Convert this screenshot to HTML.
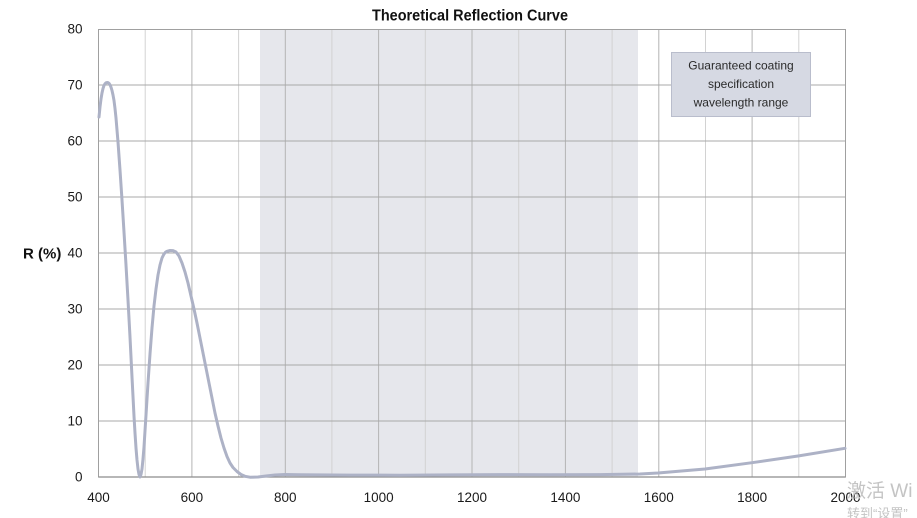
<!DOCTYPE html>
<html><head><meta charset="utf-8"><style>
html,body{margin:0;padding:0;background:#fff;}
svg{display:block;}
</style></head><body>
<svg width="917" height="518" viewBox="0 0 917 518" xmlns="http://www.w3.org/2000/svg">
<rect width="917" height="518" fill="#fff"/>
<text x="470" y="20.5" text-anchor="middle" font-family="Liberation Sans, sans-serif" font-weight="bold" font-size="16" fill="#111" textLength="196" lengthAdjust="spacingAndGlyphs">Theoretical Reflection Curve</text>
<!-- band -->
<rect x="260" y="29" width="378" height="448" fill="#e6e7ec"/>
<!-- minor vertical grid -->
<g stroke="#d2d2d2" stroke-width="1">
<line x1="145.2" y1="29" x2="145.2" y2="477"/>
<line x1="238.6" y1="29" x2="238.6" y2="477"/>
<line x1="331.9" y1="29" x2="331.9" y2="477"/>
<line x1="425.3" y1="29" x2="425.3" y2="477"/>
<line x1="518.7" y1="29" x2="518.7" y2="477"/>
<line x1="612.1" y1="29" x2="612.1" y2="477"/>
<line x1="705.5" y1="29" x2="705.5" y2="477"/>
<line x1="798.8" y1="29" x2="798.8" y2="477"/>
</g>
<g stroke="#b4b4b4" stroke-width="1">
<line x1="191.9" y1="29" x2="191.9" y2="477"/>
<line x1="285.3" y1="29" x2="285.3" y2="477"/>
<line x1="378.6" y1="29" x2="378.6" y2="477"/>
<line x1="472" y1="29" x2="472" y2="477"/>
<line x1="565.4" y1="29" x2="565.4" y2="477"/>
<line x1="658.8" y1="29" x2="658.8" y2="477"/>
<line x1="752.1" y1="29" x2="752.1" y2="477"/>
</g>
<g stroke="#a8a8a8" stroke-width="1">
<line x1="98.5" y1="85" x2="845.5" y2="85"/>
<line x1="98.5" y1="141" x2="845.5" y2="141"/>
<line x1="98.5" y1="197" x2="845.5" y2="197"/>
<line x1="98.5" y1="253" x2="845.5" y2="253"/>
<line x1="98.5" y1="309" x2="845.5" y2="309"/>
<line x1="98.5" y1="365" x2="845.5" y2="365"/>
<line x1="98.5" y1="421" x2="845.5" y2="421"/>
</g>
<!-- frame -->
<rect x="98.5" y="29.5" width="747" height="447.5" fill="none" stroke="#a0a0a0" stroke-width="1"/>
<line x1="98.5" y1="477" x2="845.5" y2="477" stroke="#8c8c8c" stroke-width="1.2"/>
<!-- legend box -->
<rect x="671.5" y="52.5" width="139" height="64" fill="#d6d9e3" stroke="#b9bdcc" stroke-width="1"/>
<g font-family="Liberation Sans, sans-serif" font-size="12" fill="#2a2a2a" text-anchor="middle">
<text x="741" y="69.5">Guaranteed coating</text>
<text x="741" y="88">specification</text>
<text x="741" y="106.5">wavelength range</text>
</g>
<!-- curve -->
<polyline fill="none" stroke="#adb2c6" stroke-width="3" stroke-linejoin="round" stroke-linecap="round" points="
99,117 100,107 101,99 102,93 103,88.5 104,85.5 105,83.8 106,82.8 107,82.5 108,82.6 109,83.3 110,84.8 111,87.2 112,90.5 113,95 114,100.5 115,108.5 116,118 118,142 120,170 122,200 124,232 126,265 128,300 130,337 132,377 134,416 135,433 136,448 137,460 138,469 139,474.5 140,477 141,474.5 142,469 143,459 144,447 146,415 148,383 150,354 152,328 154,306 156,289 158,275 160,265 162,258 164,254 165.5,252.3 167,251.3 170,250.5 173,250.6 176,252 179,256 182,263 185,272 188,283 191,296 194,309 197,323 200,338 203,353 206,368 209,383 212,398 215,413 218,426 221,438 224,448 227,456.5 230,463 233,467.5 237,471.5 241,474.5 245,476.3 250,477.2 258,477 266,476 275,475 285,474.5 300,474.7 350,475.1 400,475.2 450,474.9 500,474.6 550,474.7 600,474.6 640,474 658,473 705,469 752,462.7 798,456 845,448.3"/>
<!-- y ticks -->
<g font-family="Liberation Sans, sans-serif" font-size="13.5" fill="#1a1a1a" text-anchor="end">
<text x="82.5" y="33.5">80</text>
<text x="82.5" y="89.5">70</text>
<text x="82.5" y="145.5">60</text>
<text x="82.5" y="201.5">50</text>
<text x="82.5" y="257.5">40</text>
<text x="82.5" y="313.5">30</text>
<text x="82.5" y="369.5">20</text>
<text x="82.5" y="425.5">10</text>
<text x="82.5" y="481.5">0</text>
</g>
<text x="23" y="258.5" font-family="Liberation Sans, sans-serif" font-weight="bold" font-size="15" fill="#111">R (%)</text>
<!-- x ticks -->
<g font-family="Liberation Sans, sans-serif" font-size="13.5" fill="#1a1a1a" text-anchor="middle">
<text x="98.5" y="502">400</text>
<text x="191.9" y="502">600</text>
<text x="285.3" y="502">800</text>
<text x="378.6" y="502">1000</text>
<text x="472" y="502">1200</text>
<text x="565.4" y="502">1400</text>
<text x="658.8" y="502">1600</text>
<text x="752.1" y="502">1800</text>
<text x="845.5" y="502">2000</text>
</g>
<text x="442" y="528" font-family="Liberation Sans, sans-serif" font-size="14" fill="#333">(nm)</text>
<!-- watermark -->
<text x="847" y="497" font-family="Liberation Sans, 'Noto Sans CJK SC', sans-serif" font-size="19" fill="#c4c4c4">激活 Wi</text>
<text x="847" y="518" font-family="Liberation Sans, 'Noto Sans CJK SC', sans-serif" font-size="13" fill="#c4c4c4">转到“设置”</text>
</svg>
</body></html>
